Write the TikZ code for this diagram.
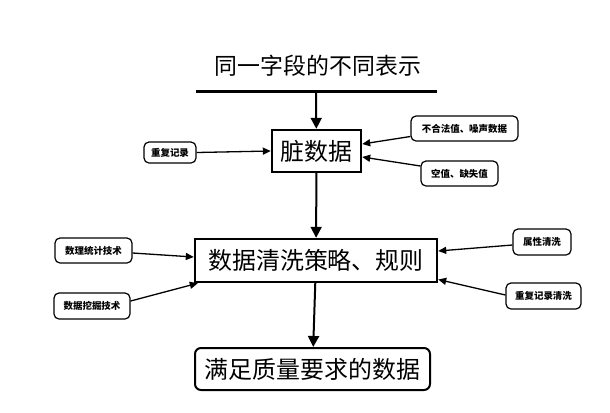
\documentclass[tikz,border=0pt]{standalone}
\usepackage{fontspec}
\usepackage{tikz}
\usetikzlibrary{arrows.meta}
\newfontfamily\cjk{Noto Sans CJK SC}

\begin{document}
\begin{tikzpicture}
  [x=1bp,y=-1bp,
   bigbox/.style={draw,line width=2.4bp,inner sep=0pt,font=\cjk\fontsize{24}{26}\selectfont},
   smallbox/.style={draw,rounded corners=5bp,line width=1.2bp,inner sep=0pt,font=\cjk\bfseries\fontsize{9.5}{11}\selectfont},
   mainarrow/.style={line width=2bp,-{Triangle[length=11bp,width=11bp]}},
   sidearrow/.style={line width=1.3bp,-{Triangle[length=8bp,width=7bp]}}]

  \useasboundingbox (0,0) rectangle (610,412);

  \node[font=\cjk\fontsize{23}{25}\selectfont] (title) at (318,66) {同一字段的不同表示};
  \coordinate (l1) at (196,91);
  \coordinate (l2) at (437,91);
  \coordinate (top) at (316,91);
  \draw[line width=3bp] (l1) -- (l2);

  \node[bigbox,minimum width=89bp,minimum height=42bp] (dirty) at (316.5,151) {脏数据};
  \node[bigbox,minimum width=242bp,minimum height=43bp] (strategy) at (316,260.5) {数据清洗策略、规则};
  \node[bigbox,rounded corners=6bp,line width=2bp,minimum width=235bp,minimum height=42bp] (final) at (312.5,369) {满足质量要求的数据};

  \node[smallbox,minimum width=52bp,minimum height=21bp] (dup) at (170,152.5) {重复记录};
  \node[smallbox,minimum width=107bp,minimum height=25bp] (illegal) at (464.5,128.5) {不合法值、噪声数据};
  \node[smallbox,minimum width=77bp,minimum height=25bp] (nullv) at (459.5,173.5) {空值、缺失值};
  \node[smallbox,minimum width=77bp,minimum height=25bp] (stat) at (93.5,250.5) {数理统计技术};
  \node[smallbox,minimum width=76bp,minimum height=26bp] (mine) at (92,306) {数据挖掘技术};
  \node[smallbox,minimum width=58bp,minimum height=26bp] (attr) at (542,242) {属性清洗};
  \node[smallbox,minimum width=75bp,minimum height=26bp] (dupclean) at (543.5,296) {重复记录清洗};

  \foreach \from/\to in {top/dirty,dirty/strategy,strategy/final}
    \draw[mainarrow] (\from) -- (\to);

  \draw[sidearrow] (dup.east) -- (dirty.west);
  \draw[sidearrow] ([yshift=-8bp]illegal.west) -- ([yshift=7bp]dirty.east);
  \draw[sidearrow] ([yshift=7.5bp]nullv.west) -- ([yshift=-6bp]dirty.east);
  \draw[sidearrow] ([yshift=-2.5bp]stat.east) -- ([yshift=3.5bp]strategy.west);
  \draw[sidearrow] ([yshift=5bp]mine.east) -- ([xshift=4bp]strategy.south west);
  \draw[sidearrow] ([yshift=-3bp]attr.west) -- ([yshift=9.5bp]strategy.east);
  \draw[sidearrow] ([yshift=1bp]dupclean.west) -- ([yshift=-19bp]strategy.east);
\end{tikzpicture}
\end{document}
